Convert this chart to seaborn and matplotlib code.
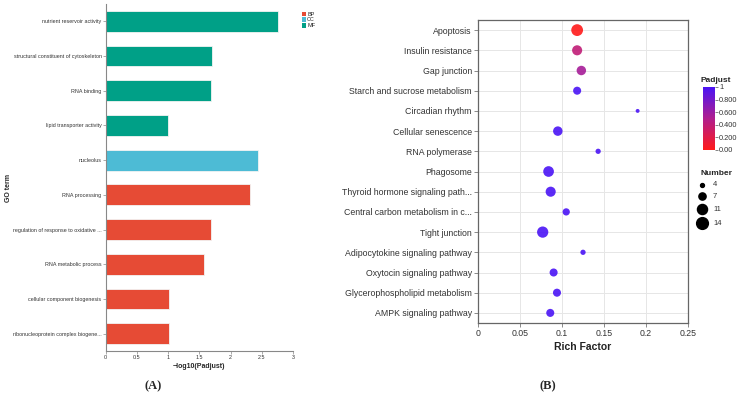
import matplotlib
matplotlib.use("Agg")
import matplotlib.pyplot as plt
import seaborn as sns
import pandas as pd
import numpy as np
from matplotlib.colors import LinearSegmentedColormap, Normalize
from matplotlib.patches import Patch
from matplotlib.lines import Line2D

# ---- data panel A ----
go_terms = ["nutrient reservoir activity", "structural constituent of cytoskeleton", "RNA binding",
            "lipid transporter activity", "nucleolus", "RNA processing",
            "regulation of response to oxidative ...", "RNA metabolic process",
            "cellular component biogenesis", "ribonucleoprotein complex biogene..."]
go_values = [2.76, 1.70, 1.68, 0.99, 2.44, 2.30, 1.68, 1.58, 1.01, 1.01]
go_types = ["MF", "MF", "MF", "MF", "CC", "BP", "BP", "BP", "BP", "BP"]
type_order = ["BP", "CC", "MF"]
type_colors = ["#E64B35", "#4DBBD5", "#00A087"]

# ---- data panel B ----
pathways = ["Apoptosis", "Insulin resistance", "Gap junction", "Starch and sucrose metabolism",
            "Circadian rhythm", "Cellular senescence", "RNA polymerase", "Phagosome",
            "Thyroid hormone signaling path...", "Central carbon metabolism in c...",
            "Tight junction", "Adipocytokine signaling pathway", "Oxytocin signaling pathway",
            "Glycerophospholipid metabolism", "AMPK signaling pathway"]
rich_factor = [0.118, 0.118, 0.123, 0.118, 0.190, 0.095, 0.143, 0.084, 0.0865, 0.105,
               0.077, 0.125, 0.090, 0.094, 0.086]
padjust = [0.0, 0.4, 0.55, 1.0, 1.0, 1.0, 1.0, 1.0, 1.0, 1.0, 1.0, 1.0, 1.0, 1.0, 1.0]
numbers = [14, 11, 10, 8, 4, 10, 5, 12, 11, 7, 13, 5, 8, 8, 8]
size_legend = [4, 7, 11, 14]
cbar_ticks = [0.0, 0.2, 0.4, 0.6, 0.8, 1.0]
cbar_labels = ["0.00", "0.200", "0.400", "0.600", "0.800", "1"]

sns.set_theme(style="white")
plt.rcParams['font.family'] = ['Liberation Sans', 'DejaVu Sans']

fig = plt.figure(figsize=(7.38, 3.97), dpi=100)

# ---------- Panel A ----------
axA = fig.add_axes([0.1432, 0.1159, 0.2542, 0.874])
dfA = pd.DataFrame({"term": go_terms, "value": go_values, "type": go_types})
sns.barplot(data=dfA, y="term", x="value", hue="type", hue_order=type_order,
            palette=type_colors, dodge=False, width=0.6, orient="h",
            edgecolor="#f3f3f3", linewidth=0.6, saturation=1, ax=axA, legend=False)
axA.set_xlim(0, 3)
axA.set_ylim(len(go_terms) - 0.5, -0.5)
axA.set_xticks([0, 0.5, 1, 1.5, 2, 2.5, 3])
axA.set_xticklabels(["0", "0.5", "1", "1.5", "2", "2.5", "3"])
axA.tick_params(axis="both", labelsize=3.9, colors="#888888", labelcolor="#333333",
                length=2, width=0.5, pad=1, bottom=True, left=True)
for s in ["top", "right"]:
    axA.spines[s].set_visible(False)
for s in ["left", "bottom"]:
    axA.spines[s].set_color("#888888")
    axA.spines[s].set_linewidth(0.8)
axA.set_xlabel("−log10(Padjust)", fontsize=5, fontweight="bold", labelpad=2)
axA.set_ylabel("GO term", fontsize=5, fontweight="bold", labelpad=0)
axA.yaxis.set_label_coords(-0.5, 0.47)
handles = [Patch(facecolor=c, edgecolor="none", label=t) for t, c in zip(type_order, type_colors)]
fig.legend(handles=handles, loc="upper left", bbox_to_anchor=(0.405, 0.978), frameon=False,
           fontsize=4.0, handlelength=0.8, handleheight=0.8, handletextpad=0.2,
           labelspacing=0.15, borderpad=0)
fig.text(153 / 738, 1 - 386 / 397, "(A)", fontsize=9, fontweight="bold",
         family="Liberation Serif", ha="center", va="center")

# ---------- Panel B ----------
cmap = LinearSegmentedColormap.from_list("rb", ["#FF1A1A", "#B01E8E", "#4A14F5"])
axB = fig.add_axes([0.6477, 0.1864, 0.2846, 0.7632])
dfB = pd.DataFrame({"path": pathways, "rich": rich_factor, "padj": padjust, "num": numbers})
s_min, s_max = 8, 72
sns.scatterplot(data=dfB, x="rich", y="path", hue="padj", size="num", palette=cmap,
                hue_norm=(0, 1), sizes=(s_min, s_max), size_norm=(4, 14), alpha=0.9,
                linewidth=0, ax=axB, legend=False, zorder=3)
axB.set_xlim(0, 0.25)
axB.set_ylim(len(pathways) - 0.5, -0.5)
axB.set_xticks([0, 0.05, 0.1, 0.15, 0.2, 0.25])
axB.set_xticklabels(["0", "0.05", "0.1", "0.15", "0.2", "0.25"])
axB.grid(True, color="#e6e6e6", linewidth=0.7)
axB.set_axisbelow(True)
axB.tick_params(axis="both", labelsize=6.3, colors="#777777", labelcolor="#333333",
                length=3, width=0.6, pad=1.5, bottom=True, left=True)
for s in axB.spines.values():
    s.set_color("#666666")
    s.set_linewidth(0.9)
axB.set_xlabel("Rich Factor", fontsize=7.5, fontweight="bold", labelpad=3, color="#222222")
axB.set_ylabel("")

# colorbar
cax = fig.add_axes([0.9526, 0.6222, 0.0163, 0.1587])
sm = plt.cm.ScalarMappable(norm=Normalize(0, 1), cmap=cmap)
cb = fig.colorbar(sm, cax=cax)
cb.outline.set_visible(False)
cb.set_ticks(cbar_ticks)
cb.set_ticklabels(cbar_labels)
cax.tick_params(labelsize=5.3, length=2, width=0.5, pad=1, colors="#555555", labelcolor="#333333")
fig.text(0.949, 1 - 80 / 397, "Padjust", fontsize=6, fontweight="bold", ha="left", va="center")

# size legend
fig.text(0.949, 1 - 174 / 397, "Number", fontsize=6, fontweight="bold", ha="left", va="center")
ys = [185, 196, 209, 223]
for n, yy in zip(size_legend, ys):
    area = s_min + (s_max - s_min) * (n - 4) / (14 - 4)
    fig.add_artist(Line2D([702 / 738], [1 - yy / 397], marker="o", markersize=np.sqrt(area),
                          color="black", linestyle="none", transform=fig.transFigure))
    fig.text(713 / 738, 1 - yy / 397, str(n), fontsize=5.5, ha="left", va="center", color="#333333")

fig.text(548 / 738, 1 - 386 / 397, "(B)", fontsize=9, fontweight="bold",
         family="Liberation Serif", ha="center", va="center")

fig.savefig("out.png", dpi=100)
